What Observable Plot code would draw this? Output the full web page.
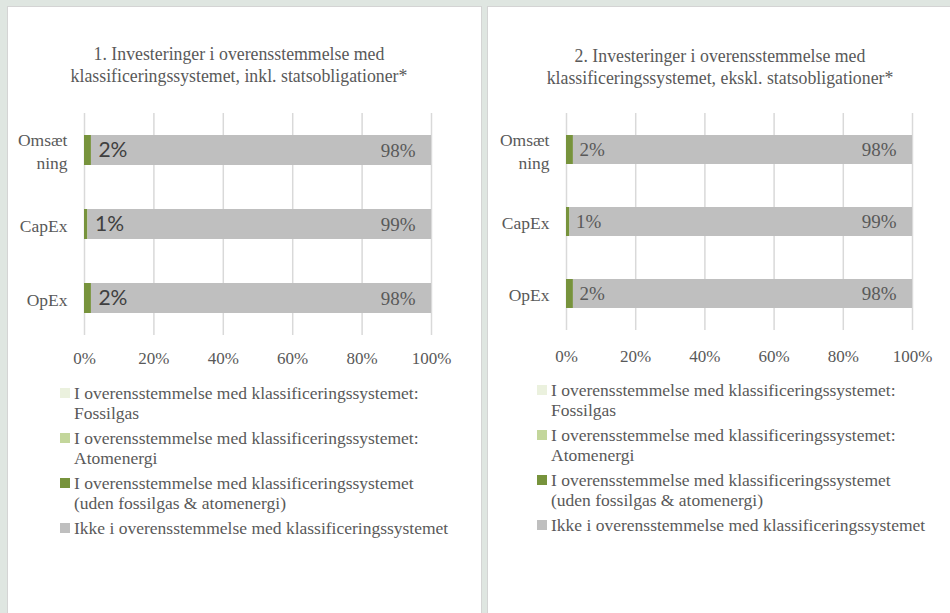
<!DOCTYPE html>
<html>
<head>
<meta charset="utf-8">
<script src="https://cdn.jsdelivr.net/npm/d3@7"></script>
<script src="https://cdn.jsdelivr.net/npm/@observablehq/plot@0.6"></script>
<style>
  html, body { margin: 0; padding: 0; }
  body { width: 950px; height: 613px; background: #dfe6e1; position: relative; overflow: hidden; color: #595959; font-family: 'Liberation Serif'; }
  .panel { position: absolute; top: 6px; background: #fff; border: 1px solid #d4d4d4; box-sizing: border-box; height: 650px; }
  .title { position: absolute; text-align: center; font-family: 'Liberation Serif'; font-size: 17.8px; line-height: 22px; white-space: pre-line; }
  .chart { position: absolute; }
  .legend { position: absolute; font-family: 'Liberation Serif'; font-size: 17.5px; line-height: 20px; }
  .item { position: relative; padding-left: 14px; margin-bottom: 5px; white-space: pre-line; }
  .sw { position: absolute; left: 0; top: 5px; width: 10px; height: 10px; }
</style>
</head>
<body>
<div class="panel" style="left:7px;width:475px"></div>
<div class="panel" style="left:487px;width:480px"></div>
<script>
// ---- data ----
const categories = ["Omsætning", "CapEx", "OpEx"];
const categoryLabels = ["Omsæt\nning", "CapEx", "OpEx"];
const seriesNames = ["Fossilgas", "Atomenergi", "Aligned", "NotAligned"];
const seriesColors = ["#ebf1de", "#c3d69b", "#77933c", "#bfbfbf"];
const legendLabels = [
  "I overensstemmelse med klassificeringssystemet:\nFossilgas",
  "I overensstemmelse med klassificeringssystemet:\nAtomenergi",
  "I overensstemmelse med klassificeringssystemet\n(uden fossilgas & atomenergi)",
  "Ikke i overensstemmelse med klassificeringssystemet"
];
const tickValues = [0, 20, 40, 60, 80, 100];
const tickLabels = ["0%", "20%", "40%", "60%", "80%", "100%"];

const title1 = "1. Investeringer i overensstemmelse med\nklassificeringssystemet, inkl. statsobligationer*";
const fossil1 = [0, 0, 0];
const atom1 = [0, 0, 0];
const aligned1 = [2, 1, 2];
const notAligned1 = [98, 99, 98];

const title2 = "2. Investeringer i overensstemmelse med\nklassificeringssystemet, ekskl. statsobligationer*";
const fossil2 = [0, 0, 0];
const atom2 = [0, 0, 0];
const aligned2 = [2, 1, 2];
const notAligned2 = [98, 99, 98];

const SERIF = "'Liberation Serif'";

// ---- build ----
function rows(f, a, al, na) {
  const out = [];
  categories.forEach((c, i) => {
    [f, a, al, na].forEach((arr, s) => out.push({category: c, series: seriesNames[s], value: arr[i]}));
  });
  return out;
}

function addTitle(text, left, width, top) {
  const d = document.createElement("div");
  d.className = "title";
  d.style.left = left + "px"; d.style.width = width + "px"; d.style.top = top + "px";
  d.textContent = text;
  document.body.appendChild(d);
}

function addLegend(left, top) {
  const lg = document.createElement("div");
  lg.className = "legend";
  lg.style.left = left + "px"; lg.style.top = top + "px";
  legendLabels.forEach((t, k) => {
    const it = document.createElement("div");
    it.className = "item";
    const sw = document.createElement("span");
    sw.className = "sw"; sw.style.background = seriesColors[k];
    it.appendChild(sw);
    it.appendChild(document.createTextNode(t));
    lg.appendChild(it);
  });
  document.body.appendChild(lg);
}

function addChart(opts) {
  const {f, a, al, na, left, top, width, height, mL, mR, mT, mB, tickPad, labelFont, labelSize, labelFill, labelDx} = opts;
  const data = rows(f, a, al, na);
  const alignedEnd = categories.map((c, i) => ({category: c, x: f[i] + a[i] + al[i], label: al[i] + "%"}));
  const totalEnd = categories.map((c, i) => ({category: c, x: f[i] + a[i] + al[i] + na[i], label: na[i] + "%"}));
  const svg = Plot.plot({
    width, height,
    marginLeft: mL, marginRight: mR, marginTop: mT, marginBottom: mB,
    style: {fontFamily: SERIF, fontSize: "17px", color: "#595959", background: "transparent"},
    x: {domain: [0, 100], label: null},
    y: {domain: categories, paddingInner: 0.6, paddingOuter: 0.3, label: null},
    color: {domain: seriesNames, range: seriesColors},
    marks: [
      Plot.ruleX(tickValues, {stroke: "#d9d9d9", strokeWidth: 1.5}),
      Plot.barX(data, Plot.stackX({x: "value", y: "category", fill: "series", order: seriesNames})),
      Plot.text(alignedEnd, {x: "x", y: "category", text: "label", textAnchor: "start", dx: labelDx,
        fontFamily: labelFont, fontSize: labelSize, fill: labelFill}),
      Plot.text(totalEnd, {x: "x", y: "category", text: "label", textAnchor: "end", dx: -16,
        fontFamily: SERIF, fontSize: 19, fill: "#595959"}),
      Plot.axisX(tickValues, {tickSize: 0, tickPadding: tickPad, label: null,
        tickFormat: d => tickLabels[tickValues.indexOf(d)], fontSize: 17, fontFamily: SERIF}),
      Plot.axisY({tickSize: 0, tickPadding: 17, label: null,
        tickFormat: d => categoryLabels[categories.indexOf(d)], fontSize: 17.5, fontFamily: SERIF, lineHeight: 1.3})
    ]
  });
  svg.classList.add("chart");
  svg.style.left = left + "px"; svg.style.top = top + "px";
  document.body.appendChild(svg);
}

addTitle(title1, 3, 472, 43);
addChart({f: fossil1, a: atom1, al: aligned1, na: notAligned1, left: 8, top: 100, width: 472, height: 280,
  mL: 76, mR: 49, mT: 13, mB: 45, tickPad: 16, labelFont: "Lato", labelSize: 21, labelFill: "#404040", labelDx: 7});
addLegend(60, 383);

addTitle(title2, 497, 446, 45);
addChart({f: fossil2, a: atom2, al: aligned2, na: notAligned2, left: 489, top: 100, width: 461, height: 280,
  mL: 77, mR: 38, mT: 13, mB: 50, tickPad: 19, labelFont: SERIF, labelSize: 19, labelFill: "#595959", labelDx: 6});
addLegend(537, 380);
</script>
</body>
</html>
